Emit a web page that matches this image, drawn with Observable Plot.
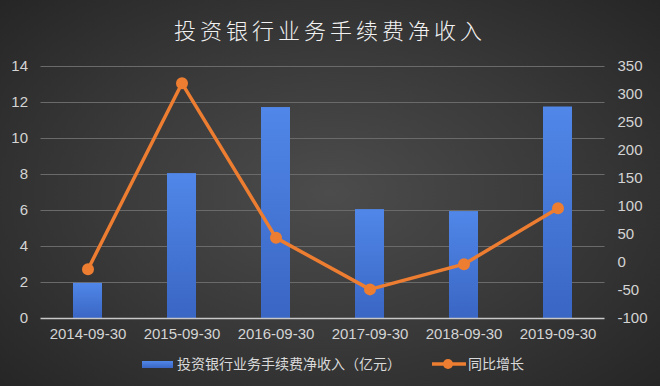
<!DOCTYPE html>
<html><head><meta charset="utf-8">
<script src="https://cdn.jsdelivr.net/npm/d3@7"></script>
<script src="https://cdn.jsdelivr.net/npm/@observablehq/plot@0.6"></script>
<style>
html,body{margin:0;padding:0;}
#wrap{position:relative;width:660px;height:386px;overflow:hidden;
 background:radial-gradient(ellipse 75% 80% at 50% 50%, #4c4c4c 0%, #3a3a3a 45%, #222 100%);
 font-family:"Noto Sans CJK SC","Noto Sans",sans-serif;}
#title{position:absolute;left:0;top:12px;width:660px;text-align:center;color:#f2f2f2;font-size:22px;font-weight:300;letter-spacing:4px;line-height:34px;}
#chart{position:absolute;left:0;top:50px;}
#legend{position:absolute;left:0;top:352px;width:660px;height:22px;color:#d9d9d9;font-size:14px;}
.li{position:absolute;top:0;height:22px;line-height:22px;white-space:nowrap;}
</style></head><body>
<div id="wrap">
 <div id="title">投资银行业务手续费净收入</div>
 <div id="chart"></div>
 <div id="legend">
  <div class="li" style="left:142px;"><span style="display:inline-block;width:31px;height:7px;background:linear-gradient(#5087e8,#3a66c4);vertical-align:middle;margin-right:4px;position:relative;top:-1px"></span>投资银行业务手续费净收入（亿元）</div>
  <div class="li" style="left:432px;"><svg width="34" height="12" style="vertical-align:middle;margin-right:2px;position:relative;top:-1px"><line x1="0" y1="6" x2="34" y2="6" stroke="#ed7d31" stroke-width="3.5"/><circle cx="16" cy="6" r="5" fill="#ed7d31"/></svg>同比增长</div>
 </div>
</div>
<script>
const dates = ["2014-09-30","2015-09-30","2016-09-30","2017-09-30","2018-09-30","2019-09-30"];
const income = [1.95, 8.05, 11.72, 6.05, 5.94, 11.75];
const growth = [-12, 320, 44, -48, -3, 97];
const leftTicks = [0,2,4,6,8,10,12,14];
const rightTicks = [-100,-50,0,50,100,150,200,250,300,350];

const rMin = -100, rMax = 350, lMax = 14;
const toLeft = v => (v - rMin) / (rMax - rMin) * lMax;
const toRight = y => Math.round(y * (rMax - rMin) / lMax + rMin);

const bars = dates.map((d,i)=>({date:d, value:income[i]}));
const line = dates.map((d,i)=>({date:d, g:toLeft(growth[i])}));

const font = "Liberation Sans, Arial, sans-serif";
const plot = Plot.plot({
  width: 660, height: 300,
  marginTop: 16, marginBottom: 32, marginLeft: 40.5, marginRight: 55.5,
  style: {background: "transparent", color: "#d4d4d4", fontFamily: font, fontSize: "15px"},
  x: {type: "band", domain: dates, paddingInner: 0.69, paddingOuter: 0.345, label: null},
  y: {domain: [0, lMax], label: null},
  marks: [
    Plot.gridY(leftTicks.slice(1), {stroke: "#6a6a6a", strokeOpacity: 1, strokeWidth: 1}),
    Plot.axisX({tickSize: 0, tickPadding: 10, label: null, fill: "#d4d4d4"}),
    Plot.axisY(leftTicks, {anchor: "left", tickSize: 0, tickPadding: 13, label: null, fill: "#d4d4d4"}),
    Plot.axisY(rightTicks.map(toLeft), {anchor: "right", tickSize: 0, tickPadding: 12.5, label: null, fill: "#d4d4d4", tickFormat: d => String(toRight(d))}),
    Plot.barY(bars, {x: "date", y: "value", fill: "url(#barGrad)"}),
    Plot.ruleY([0], {stroke: "#c8c8c8", strokeWidth: 1.5}),
    Plot.line(line, {x: "date", y: "g", stroke: "#ed7d31", strokeWidth: 3.5}),
    Plot.dot(line, {x: "date", y: "g", r: 6, fill: "#ed7d31", stroke: "none"})
  ]
});
const defs = document.createElementNS("http://www.w3.org/2000/svg","defs");
defs.innerHTML = '<linearGradient id="barGrad" x1="0" y1="0" x2="0" y2="1"><stop offset="0" stop-color="#5087e8"/><stop offset="1" stop-color="#3a66c4"/></linearGradient>';
plot.insertBefore(defs, plot.firstChild);
document.getElementById("chart").appendChild(plot);
</script>
</body></html>
